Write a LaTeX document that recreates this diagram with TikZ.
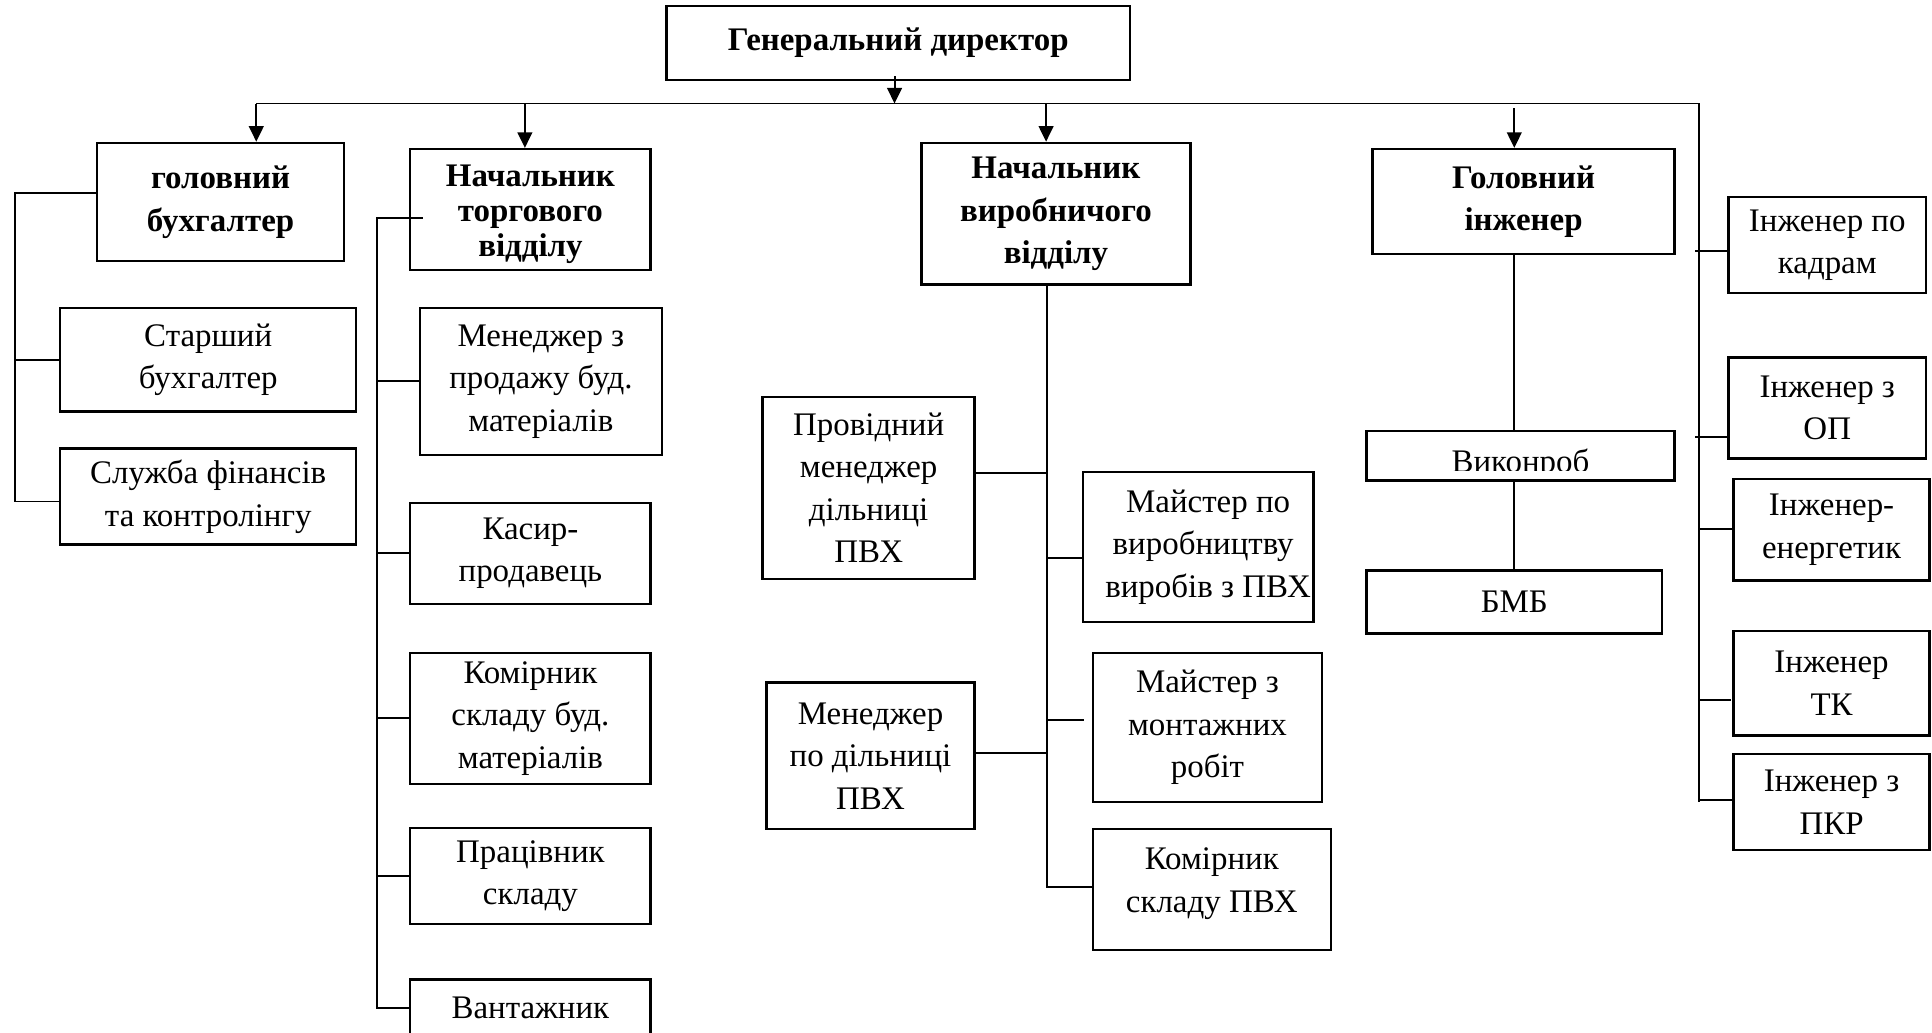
\documentclass[tikz,border=0pt]{standalone}
\usepackage{fontspec}
\setmainfont{Liberation Serif}
\usetikzlibrary{arrows.meta}
\begin{document}
\begin{tikzpicture}[x=0.01cm,y=-0.01cm,
  box/.style={draw, line width=0.55pt, inner sep=0pt, align=center, font=\fontsize{7.6}{9.8}\selectfont},
  bbox/.style={box, font=\fontsize{7.6}{9.8}\selectfont\bfseries},
  conn/.style={line width=0.45pt},
  arr/.style={conn, -{Triangle[length=3.6pt,width=3.4pt]}}]
\useasboundingbox (0,0) rectangle (1568,838);

% top level
\node[bbox, minimum width=3.76cm, minimum height=0.60cm] (gd) at (729,35) {Генеральний директор};
\node[bbox, minimum width=2.00cm, minimum height=0.96cm] (gb) at (179,164) {головний\\бухгалтер};
\node[bbox, minimum width=1.95cm, minimum height=0.98cm, font=\fontsize{7.6}{8.1}\selectfont\bfseries] (nt) at (430.5,170) {\rule{0pt}{7.3pt}Начальник\\торгового\\відділу};
\node[bbox, minimum width=2.18cm, minimum height=1.15cm] (nv) at (857,173.5) {Начальник\\виробничого\\відділу};
\node[bbox, minimum width=2.45cm, minimum height=0.85cm] (gi) at (1236.5,163.5) {Головний\\інженер};

% accountant group
\node[box, minimum width=2.40cm, minimum height=0.84cm] (sb) at (169,292) {Старший\\бухгалтер};
\node[box, minimum width=2.40cm, minimum height=0.78cm] (sf) at (169,403) {Служба фінансів\\та контролінгу};

% trade group
\node[box, minimum width=1.96cm, minimum height=1.19cm] (mp) at (439,309.5) {Менеджер з\\продажу буд.\\матеріалів};
\node[box, minimum width=1.95cm, minimum height=0.82cm] (kp) at (430.5,449) {Касир-\\продавець};
\node[box, minimum width=1.95cm, minimum height=1.06cm] (ks) at (430.5,583) {Комірник\\складу буд.\\матеріалів};
\node[box, minimum width=1.95cm, minimum height=0.78cm] (ps) at (430.5,711) {Працівник\\складу};
\node[box, minimum width=1.95cm, minimum height=0.46cm] (vt) at (430.5,818) {Вантажник};

% production group
\node[box, minimum width=1.72cm, minimum height=1.48cm] (pm) at (705,396) {Провідний\\менеджер\\дільниці\\ПВХ};
\node[box, minimum width=1.87cm, minimum height=1.22cm] (mv) at (972.5,444) {\hspace*{0.6em}Майстер по\\\hspace*{0.3em}виробництву\\\hspace*{0.6em}виробів з ПВХ};
\node[box, minimum width=1.69cm, minimum height=1.19cm] (md) at (706.5,613.5) {Менеджер\\по дільниці\\ПВХ};
\node[box, minimum width=1.86cm, minimum height=1.21cm] (mm) at (980,590.5) {Майстер з\\монтажних\\робіт};
\node[box, minimum width=1.93cm, minimum height=0.98cm] (kv) at (983.5,722) {Комірник\\складу ПВХ\rule[-4.3pt]{0pt}{0pt}};

% chief engineer group
\node[box, minimum width=2.50cm, minimum height=0.40cm] (vk) at (1234,370) {};
\begin{scope}
  \clip (1109,350) rectangle (1359,382);
  \node[anchor=base, inner sep=0pt, font=\fontsize{7.6}{9.8}\selectfont] (vkt) at (1234,383.5) {Виконроб};
\end{scope}
\node[box, minimum width=2.40cm, minimum height=0.51cm] (bmb) at (1229,488.5) {БМБ};

% engineers
\node[box, minimum width=1.60cm, minimum height=0.78cm] (ik) at (1483,199) {Інженер по\\кадрам};
\node[box, minimum width=1.60cm, minimum height=0.82cm] (io) at (1483,331) {Інженер з\\ОП};
\node[box, minimum width=1.59cm, minimum height=0.82cm] (ie) at (1486.5,430) {Інженер-\\енергетик};
\node[box, minimum width=1.59cm, minimum height=0.85cm] (it) at (1486.5,554.5) {Інженер\\ТК};
\node[box, minimum width=1.59cm, minimum height=0.78cm] (ip) at (1486.5,651) {Інженер з\\ПКР};

% bus
\coordinate (b1) at (208,84);
\coordinate (b2) at (426,84);
\coordinate (b3) at (849,84);
\coordinate (b4) at (1229,88);
\coordinate (bR) at (1379,84);
\coordinate (rEnd) at (1379,651);
\coordinate (d0) at (726,62);
\draw[arr] (d0) -- (d0 |- bR);
\draw[conn] (b1) -- (bR) -- (rEnd);
\draw[arr] (b1) -- (b1 |- gb.north);
\draw[arr] (b2) -- (b2 |- nt.north);
\draw[arr] (b3) -- (b3 |- nv.north);
\draw[arr] (b4) -- (b4 |- gi.north);

% accountant connectors
\coordinate (j1) at (12,157);
\draw[conn] (gb.west |- j1) -- (j1) -- (j1 |- 0,407) -- (sf.west |- 0,407);
\draw[conn] (j1 |- sb.west) -- (sb.west);

% trade connectors
\coordinate (t0) at (343,177);
\coordinate (t1) at (306,177);
\draw[conn] (t0) -- (t1) -- (t1 |- vt.west) -- (vt.west);
\draw[conn] (t1 |- mp.west) -- (mp.west);
\draw[conn] (t1 |- kp.west) -- (kp.west);
\draw[conn] (t1 |- ks.west) -- (ks.west);
\draw[conn] (t1 |- ps.west) -- (ps.west);

% production connectors
\coordinate (v0) at (850,231);
\coordinate (vEnd) at (850,720);
\draw[conn] (v0) -- (vEnd) -- (vEnd -| kv.west);
\coordinate (vpm) at (850,384);
\draw[conn] (vpm) -- (vpm -| pm.east);
\coordinate (vmv) at (850,453);
\draw[conn] (vmv) -- (vmv -| mv.west);
\coordinate (vmm) at (850,584);
\coordinate (mmEnd) at (880,584);
\draw[conn] (vmm) -- (mmEnd);
\coordinate (vmd) at (850,611);
\draw[conn] (vmd) -- (vmd -| md.east);

% chief engineer connectors
\coordinate (g0) at (1229,206);
\draw[conn] (g0) -- (g0 |- vk.north);
\draw[conn] (g0 |- vk.south) -- (g0 |- bmb.north);

% engineers connectors
\coordinate (rk) at (1376,204);
\draw[conn] (rk) -- (rk -| ik.west);
\coordinate (ro) at (1376,355);
\draw[conn] (ro) -- (ro -| io.west);
\coordinate (re) at (1379,429);
\draw[conn] (re) -- (re -| ie.west);
\coordinate (rt) at (1379,568);
\coordinate (rtEnd) at (1405,568);
\draw[conn] (rt) -- (rtEnd);
\coordinate (rp) at (1379,649);
\draw[conn] (rp) -- (rp -| ip.west);
\end{tikzpicture}
\end{document}
